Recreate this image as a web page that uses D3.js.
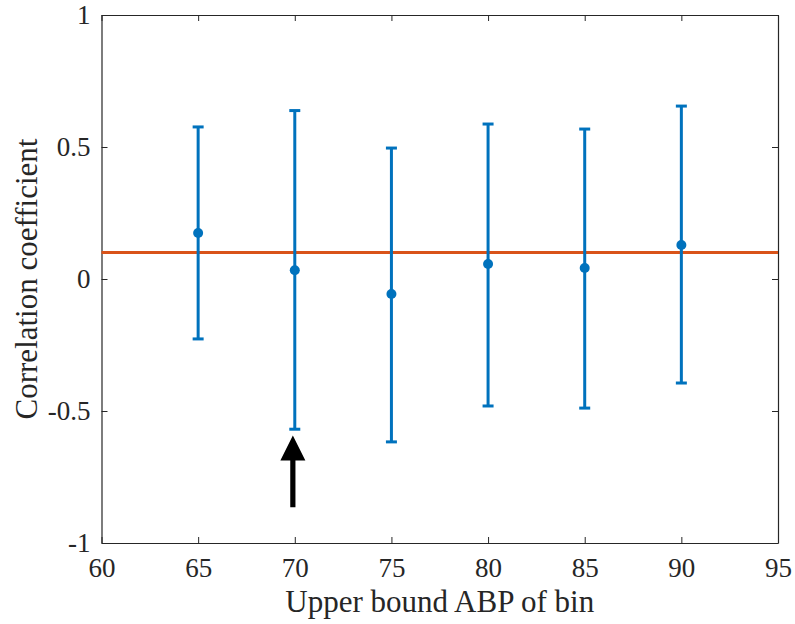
<!DOCTYPE html>
<html>
<head>
<meta charset="utf-8">
<script src="https://cdn.jsdelivr.net/npm/d3@7"></script>
<style>
  html, body { margin: 0; padding: 0; background: #fff; }
  svg { display: block; }
  text { font-family: "Liberation Serif", "Times New Roman", serif; fill: #262626; }
</style>
</head>
<body>
<svg id="chart" width="795" height="624"></svg>
<script>
// Upper bound ABP of each bin and the correlation found in it
const binUpper = [65, 70, 75, 80, 85, 90];
const corr     = [0.174, 0.033, -0.057, 0.057, 0.042, 0.129];
const ciHigh   = [0.576, 0.638, 0.496, 0.587, 0.568, 0.655];
const ciLow    = [-0.227, -0.569, -0.617, -0.481, -0.489, -0.394];

// Reference level drawn across the whole plot
const threshold = 0.1;

// Arrow pointing at the 70 bin
const arrowX = 69.9;
const arrowFrom = -0.865;
const arrowTo = -0.593;

const xTicks = [60, 65, 70, 75, 80, 85, 90, 95];
const yTicks = [-1, -0.5, 0, 0.5, 1];

const svg = d3.select("#chart");
const plotLeft = 101.5, plotRight = 778, plotTop = 15, plotBottom = 543;

const x = d3.scaleLinear().domain([60, 95]).range([plotLeft, plotRight]);
const y = d3.scaleLinear().domain([-1, 1]).range([plotBottom, plotTop]);

const blue = "#0072BD", orange = "#D95319", axisColor = "#262626";

// Axes with inward ticks on all four sides; plain hyphen for negatives
const fmt = d => String(d);
const gx = svg.append("g").attr("transform", `translate(0,${plotBottom})`)
  .call(d3.axisBottom(x).tickValues(xTicks).tickSizeInner(-6).tickSizeOuter(0).tickPadding(15).tickFormat(fmt));
const gxTop = svg.append("g").attr("transform", `translate(0,${plotTop})`)
  .call(d3.axisTop(x).tickValues(xTicks).tickSizeInner(-6).tickSizeOuter(0).tickFormat(""));
const gy = svg.append("g").attr("transform", `translate(${plotLeft},0)`)
  .call(d3.axisLeft(y).tickValues(yTicks).tickSizeInner(-6).tickSizeOuter(0).tickPadding(11).tickFormat(fmt));
const gyRight = svg.append("g").attr("transform", `translate(${plotRight},0)`)
  .call(d3.axisRight(y).tickValues(yTicks).tickSizeInner(-6).tickSizeOuter(0).tickFormat(""));

[gx, gxTop, gy, gyRight].forEach(g => {
  g.select(".domain").attr("stroke", axisColor).attr("stroke-width", 1.2);
  g.selectAll(".tick line").attr("stroke", axisColor).attr("stroke-width", 1);
  g.selectAll(".tick text").style("font-size", "27px").attr("fill", axisColor)
    .style("font-family", '"Liberation Serif", "Times New Roman", serif');
});

// Threshold line
svg.append("line")
  .attr("x1", x(60)).attr("x2", x(95))
  .attr("y1", y(threshold)).attr("y2", y(threshold))
  .attr("stroke", orange).attr("stroke-width", 3);

// Error bars
const data = binUpper.map((b, i) => ({ b, r: corr[i], hi: ciHigh[i], lo: ciLow[i] }));
const capHalf = 5.5;
const bars = svg.append("g");
bars.selectAll("line.stem").data(data).join("line").attr("class", "stem")
  .attr("x1", d => x(d.b)).attr("x2", d => x(d.b))
  .attr("y1", d => y(d.hi)).attr("y2", d => y(d.lo))
  .attr("stroke", blue).attr("stroke-width", 3);
bars.selectAll("line.capHi").data(data).join("line").attr("class", "capHi")
  .attr("x1", d => x(d.b) - capHalf).attr("x2", d => x(d.b) + capHalf)
  .attr("y1", d => y(d.hi)).attr("y2", d => y(d.hi))
  .attr("stroke", blue).attr("stroke-width", 3);
bars.selectAll("line.capLo").data(data).join("line").attr("class", "capLo")
  .attr("x1", d => x(d.b) - capHalf).attr("x2", d => x(d.b) + capHalf)
  .attr("y1", d => y(d.lo)).attr("y2", d => y(d.lo))
  .attr("stroke", blue).attr("stroke-width", 3);
bars.selectAll("circle").data(data).join("circle")
  .attr("cx", d => x(d.b)).attr("cy", d => y(d.r)).attr("r", 5)
  .attr("fill", blue);

// Arrow
const ax = x(arrowX), yTip = y(arrowTo), yTail = y(arrowFrom);
const headLen = 25, headHalf = 12.5, shaftHalf = 2.6;
svg.append("path")
  .attr("d", `M${ax - shaftHalf},${yTail} L${ax - shaftHalf},${yTip + headLen} L${ax - headHalf},${yTip + headLen} L${ax},${yTip} L${ax + headHalf},${yTip + headLen} L${ax + shaftHalf},${yTip + headLen} L${ax + shaftHalf},${yTail} Z`)
  .attr("fill", "#000");

// Axis titles
svg.append("text")
  .attr("x", (plotLeft + plotRight) / 2).attr("y", 612)
  .attr("text-anchor", "middle")
  .style("font-size", "31px")
  .text("Upper bound ABP of bin");

svg.append("text")
  .attr("transform", `translate(37,${(plotTop + plotBottom) / 2}) rotate(-90)`)
  .attr("text-anchor", "middle")
  .style("font-size", "31px")
  .text("Correlation coefficient");
</script>
</body>
</html>
